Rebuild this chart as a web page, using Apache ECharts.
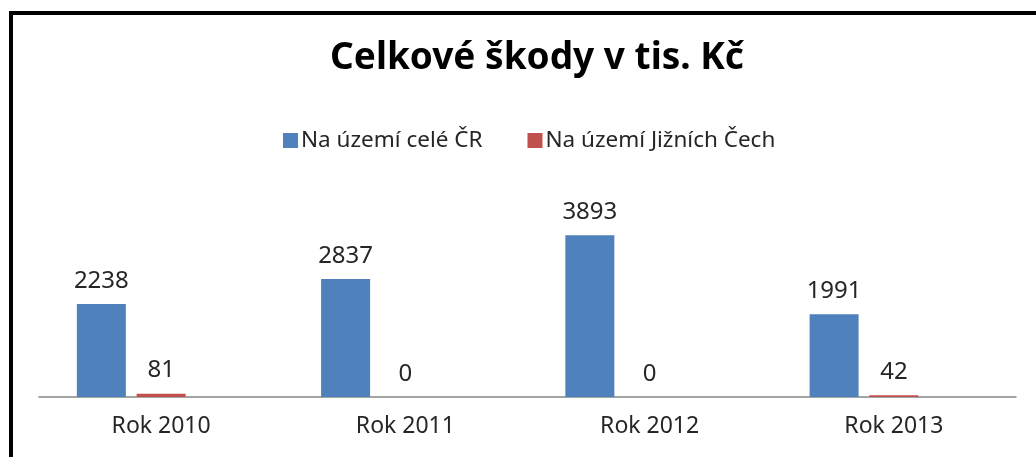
<!DOCTYPE html>
<html>
<head>
<meta charset="utf-8">
<script src="https://cdn.jsdelivr.net/npm/echarts@6/dist/echarts.min.js"></script>
<style>
  html, body { margin: 0; padding: 0; background: #fff; overflow: hidden; }
  #chart { width: 1036px; height: 457px; }
</style>
</head>
<body>
<div id="chart"></div>
<script>
// kategorie a hodnoty
var categories = ["Rok 2010", "Rok 2011", "Rok 2012", "Rok 2013"];
var celeCR = [2238, 2837, 3893, 1991];
var jizniCechy = [81, 0, 0, 42];
var emptySeries = [null, null, null, null]; // prazdna treti rada jako v Excelu

var chart = echarts.init(document.getElementById("chart"));
var font = "'Noto Sans', 'Open Sans', sans-serif";

var barLabel = {
  show: true,
  position: "top",
  distance: 11,
  color: "#262626",
  fontSize: 24,
  fontFamily: font,
};

var option = {
  animation: false,
  backgroundColor: "#fff",
  title: {
    text: "Celkové škody v tis. Kč",
    left: 532,
    textAlign: "center",
    top: 35,
    textStyle: {
      color: "#000",
      fontSize: 37,
      fontWeight: "bold",
      fontFamily: font,
    },
  },
  legend: {
    data: ["Na území celé ČR", "Na území Jižních Čech"],
    left: 278,
    top: 124,
    icon: "rect",
    itemWidth: 15,
    itemHeight: 15,
    itemGap: 45,
    textStyle: {
      color: "#262626",
      fontSize: 22.5,
      fontFamily: font,
      padding: [0, 0, 0, -2],
    },
  },
  grid: {
    left: 39,
    right: 20,
    top: 210,
    bottom: 60,
  },
  xAxis: {
    type: "category",
    data: categories,
    axisTick: { show: false },
    axisLine: { lineStyle: { color: "#868686", width: 1.5 } },
    axisLabel: {
      color: "#262626",
      fontSize: 23,
      fontFamily: font,
      margin: 18,
    },
  },
  yAxis: {
    type: "value",
    min: 0,
    max: 4500,
    show: false,
    splitLine: { show: false },
  },
  series: [
    {
      name: "Na území celé ČR",
      type: "bar",
      data: celeCR,
      barWidth: 49,
      barGap: "22%",
      itemStyle: { color: "#4F81BD" },
      label: barLabel,
    },
    {
      name: "Na území Jižních Čech",
      type: "bar",
      data: jizniCechy,
      barWidth: 49,
      itemStyle: { color: "#C0504D" },
      label: barLabel,
    },
    {
      name: "",
      type: "bar",
      data: emptySeries,
      barWidth: 49,
    },
  ],
  graphic: [
    {
      type: "polyline",
      shape: { points: [[11, 460], [11, 13], [1040, 13]] },
      style: { stroke: "#000", lineWidth: 4, fill: null },
    },
  ],
};

chart.setOption(option);
</script>
</body>
</html>
